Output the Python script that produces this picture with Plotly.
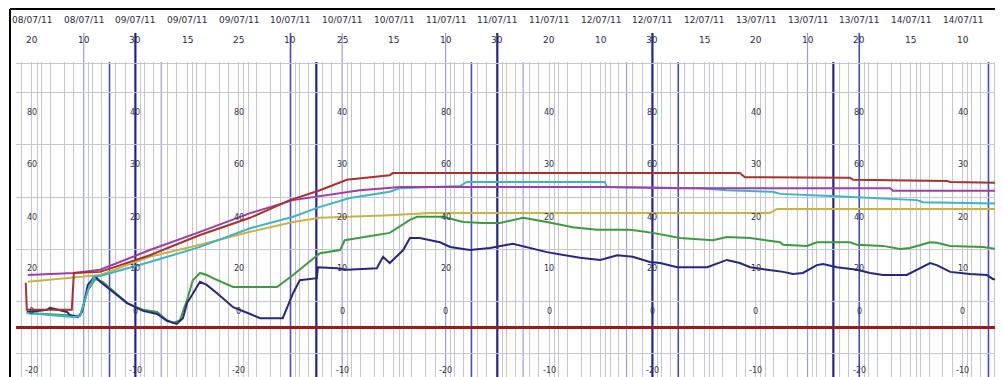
import plotly.graph_objects as go

# ---------------- data ----------------
hour_ticks = list(range(19))
date_labels = ["08/07/11", "08/07/11", "09/07/11", "09/07/11", "09/07/11", "10/07/11", "10/07/11",
               "10/07/11", "11/07/11", "11/07/11", "11/07/11", "12/07/11", "12/07/11", "12/07/11",
               "13/07/11", "13/07/11", "13/07/11", "14/07/11", "14/07/11"]
time_labels = ["20", "10", "30", "15", "25", "10", "25", "15", "10", "30",
               "20", "10", "30", "15", "20", "10", "20", "15", "10"]

scale_cols = [0, 2, 4, 6, 8, 10, 12, 14, 16, 18]
scale_a = ["80", "60", "40", "20", "0", "-20"]
scale_b = ["40", "30", "20", "10", "0", "-10"]
scale_levels = [41.2, 31.2, 21.0, 11.3, 2.9, -8.4]
h_grid = [-5, 5, 15, 25, 35, 45, 50.7]

light_blue_marks = [1.0, 2.5, 6.0, 8.0, 9.5, 11.5, 15.0]
medium_blue_marks = [1.5, 5.0, 8.5, 12.5, 16.0, 18.5]
dark_blue_marks = [2.0, 5.5, 9.0, 12.0, 15.5]

red = [(-0.12, 8.5), (-0.10, 3.3), (0.77, 3.3), (0.81, 10.4), (1.32, 10.6), (2.28, 13.8),
       (3.25, 17.7), (4.22, 21.0), (4.99, 24.4), (5.57, 26.3), (6.09, 28.3), (6.92, 29.2),
       (6.98, 29.6), (13.69, 29.6), (13.79, 28.8), (15.82, 28.7), (15.88, 28.3), (17.70, 28.1),
       (17.76, 27.9), (18.78, 27.7)]
purple = [(-0.08, 10.0), (0.81, 10.4), (1.32, 11.0), (2.28, 14.8), (3.25, 18.3), (4.22, 21.9),
          (5.05, 24.4), (5.57, 25.2), (6.34, 26.3), (7.12, 26.9), (11.08, 26.9), (12.53, 26.7),
          (16.60, 26.7), (16.65, 26.2), (18.78, 26.2)]
yellow = [(-0.08, 8.7), (0.68, 9.4), (0.83, 9.6), (1.32, 10.0), (2.28, 13.5), (3.25, 15.8),
          (4.22, 18.3), (5.05, 20.2), (5.57, 21.0), (6.15, 21.2), (6.92, 21.5), (7.70, 21.9),
          (14.27, 21.9), (14.41, 22.7), (18.78, 22.7)]
cyan = [(-0.10, 2.7), (0.83, 1.9), (0.93, 2.1), (1.08, 7.1), (1.22, 9.8), (1.32, 9.8),
        (2.28, 12.5), (3.25, 15.4), (4.22, 19.0), (5.05, 21.2), (5.57, 23.1), (6.15, 24.8),
        (6.92, 26.0), (7.12, 26.7), (8.28, 27.1), (8.41, 27.9), (11.08, 27.9), (11.12, 26.9),
        (12.92, 26.7), (13.44, 26.3), (14.33, 26.0), (14.47, 25.6), (15.44, 25.2), (16.21, 24.8),
        (17.12, 24.4), (17.23, 24.0), (18.09, 23.8), (18.78, 23.7)]
green = [(-0.10, 2.7), (0.93, 2.1), (1.08, 7.1), (1.22, 9.2), (1.37, 8.7), (1.84, 4.6),
         (2.15, 3.3), (2.42, 2.9), (2.61, 1.3), (2.73, 0.8), (2.86, 1.3), (3.00, 5.2),
         (3.11, 9.0), (3.25, 10.4), (3.38, 10.0), (3.50, 9.4), (3.89, 7.7), (4.74, 7.7),
         (5.05, 10.0), (5.57, 14.2), (5.96, 14.8), (6.05, 16.7), (6.92, 18.1), (7.31, 20.6),
         (7.45, 21.2), (7.95, 21.2), (8.34, 20.2), (8.72, 20.0), (9.05, 20.0), (9.50, 21.0),
         (9.96, 20.2), (10.46, 19.2), (10.93, 18.7), (11.57, 18.7), (12.01, 18.1), (12.53, 17.1),
         (13.17, 16.7), (13.44, 17.3), (13.89, 17.1), (14.47, 16.3), (14.53, 15.8), (14.99, 15.6),
         (15.18, 16.3), (15.82, 16.3), (15.96, 15.8), (16.46, 15.6), (16.79, 15.0), (16.98, 15.2),
         (17.37, 16.3), (17.50, 16.2), (17.76, 15.6), (18.39, 15.4), (18.78, 14.8)]
navy = [(-0.10, 2.9), (-0.04, 2.9), (0.29, 3.3), (0.35, 3.7), (0.68, 2.9), (0.73, 2.3),
        (0.89, 1.9), (0.97, 2.9), (1.08, 8.1), (1.22, 9.8), (1.32, 8.7), (1.84, 4.6),
        (2.15, 3.1), (2.42, 2.5), (2.61, 1.2), (2.80, 0.6), (2.92, 1.7), (3.00, 4.6),
        (3.25, 8.7), (3.38, 8.1), (3.58, 6.5), (3.89, 3.8), (4.22, 2.5), (4.41, 1.7),
        (4.85, 1.7), (5.05, 6.5), (5.18, 9.0), (5.51, 9.4), (5.53, 11.5), (5.90, 11.3),
        (6.09, 11.0), (6.67, 11.3), (6.79, 13.5), (6.92, 12.3), (7.18, 14.8), (7.31, 17.1),
        (7.50, 17.1), (7.89, 16.3), (8.09, 15.4), (8.47, 14.8), (8.86, 15.2), (9.30, 16.0),
        (9.96, 14.4), (10.60, 13.3), (10.99, 12.9), (11.32, 13.8), (11.62, 13.5), (11.95, 12.5),
        (12.15, 12.3), (12.48, 11.5), (13.06, 11.5), (13.31, 12.5), (13.44, 12.9), (13.69, 12.3),
        (13.89, 11.5), (14.22, 11.0), (14.53, 10.6), (14.72, 10.2), (14.91, 10.4), (15.18, 11.9),
        (15.30, 12.1), (15.57, 11.5), (15.96, 11.0), (16.21, 10.4), (16.46, 10.0), (16.92, 10.0),
        (17.12, 11.0), (17.37, 12.3), (17.50, 11.9), (17.76, 10.6), (18.14, 10.2), (18.47, 10.0),
        (18.59, 9.2), (18.78, 9.0)]

series = [
    ("green", green, "#3c9c3c"),
    ("navy", navy, "#262684"),
    ("yellow", yellow, "#c8b446"),
    ("cyan", cyan, "#3cb4c8"),
    ("purple", purple, "#a23ca6"),
    ("red", red, "#a8322d"),
]

# ---------------- figure ----------------
# The page body has an 8px margin, so the figure is 8px smaller and everything is laid out
# relative to that offset.
OFF = 8
X_RANGE = [-0.309, 18.781]
Y_RANGE = [-9.615, 50.96]
PLOT_W, PLOT_H = 987, 315


def px_x(ref_px):
    return (ref_px - 16) / PLOT_W


def px_y(ref_py):
    return (377 - ref_py) / PLOT_H


all_blue = light_blue_marks + medium_blue_marks + dark_blue_marks
grid_offsets = [0.0, 0.1, 0.18, 0.35, 0.62, 0.8]
grey_grid = []
for k in range(-1, 20):
    for off in grid_offsets:
        v = round(k + off, 3)
        if X_RANGE[0] < v < X_RANGE[1] and all(abs(v - b) > 0.05 for b in all_blue):
            grey_grid.append(v)

fig = go.Figure()
for name, pts, color in series:
    fig.add_trace(go.Scatter(
        x=[p[0] for p in pts], y=[p[1] for p in pts], mode="lines", name=name,
        line=dict(color=color, width=2), hoverinfo="skip"))

shapes = []
for marks, color, width in [(light_blue_marks, "#9c9ce0", 1.2),
                            (medium_blue_marks, "#4a4ac4", 1.6),
                            (dark_blue_marks, "#22229c", 2.2)]:
    for v in marks:
        top = px_y(33) if float(v).is_integer() else 1.0
        shapes.append(dict(type="line", xref="x", yref="paper", x0=v, x1=v, y0=0, y1=top,
                           line=dict(color=color, width=width), layer="below"))

# frame
fx = px_x(10)
fy = px_y(9)
shapes.append(dict(type="line", xref="paper", yref="paper", x0=fx, x1=fx, y0=-0.05, y1=fy,
                   line=dict(color="black", width=2)))
shapes.append(dict(type="line", xref="paper", yref="paper", x0=fx, x1=1.02, y0=fy, y1=fy,
                   line=dict(color="black", width=2)))

annotations = []
for i, t in enumerate(hour_ticks):
    annotations.append(dict(x=t, y=px_y(20), xref="x", yref="paper", text=date_labels[i],
                            showarrow=False, font=dict(size=9, color="#2a2a3a", family="DejaVu Sans"),
                            xanchor="center", yanchor="middle"))
    annotations.append(dict(x=t, y=px_y(40), xref="x", yref="paper", text=time_labels[i],
                            showarrow=False, font=dict(size=9, color="#2a2a3a", family="DejaVu Sans"),
                            xanchor="center", yanchor="middle"))
for j, c in enumerate(scale_cols):
    labels = scale_a if j % 2 == 0 else scale_b
    for lab, lev in zip(labels, scale_levels):
        annotations.append(dict(x=c, y=lev, xref="x", yref="y", text=lab, showarrow=False,
                                font=dict(size=8, color="#333340", family="DejaVu Sans"),
                                xanchor="center", yanchor="middle"))

fig.update_layout(
    width=1003 - OFF, height=377 - OFF,
    margin=dict(l=16 - OFF, r=0, t=62 - OFF, b=0, pad=0),
    paper_bgcolor="white", plot_bgcolor="white",
    showlegend=False,
    shapes=shapes,
    annotations=annotations,
    xaxis=dict(range=X_RANGE, tickmode="array", tickvals=grey_grid, showticklabels=False,
               ticks="", showgrid=True, gridcolor="#c6c6ce", gridwidth=1, zeroline=False,
               showline=False, fixedrange=True),
    yaxis=dict(range=Y_RANGE, tickmode="array", tickvals=h_grid, showticklabels=False,
               ticks="", showgrid=True, gridcolor="#c6c6ce", gridwidth=1,
               zeroline=True, zerolinecolor="#a01818", zerolinewidth=3,
               showline=False, fixedrange=True),
)

fig.write_html("out.html")
